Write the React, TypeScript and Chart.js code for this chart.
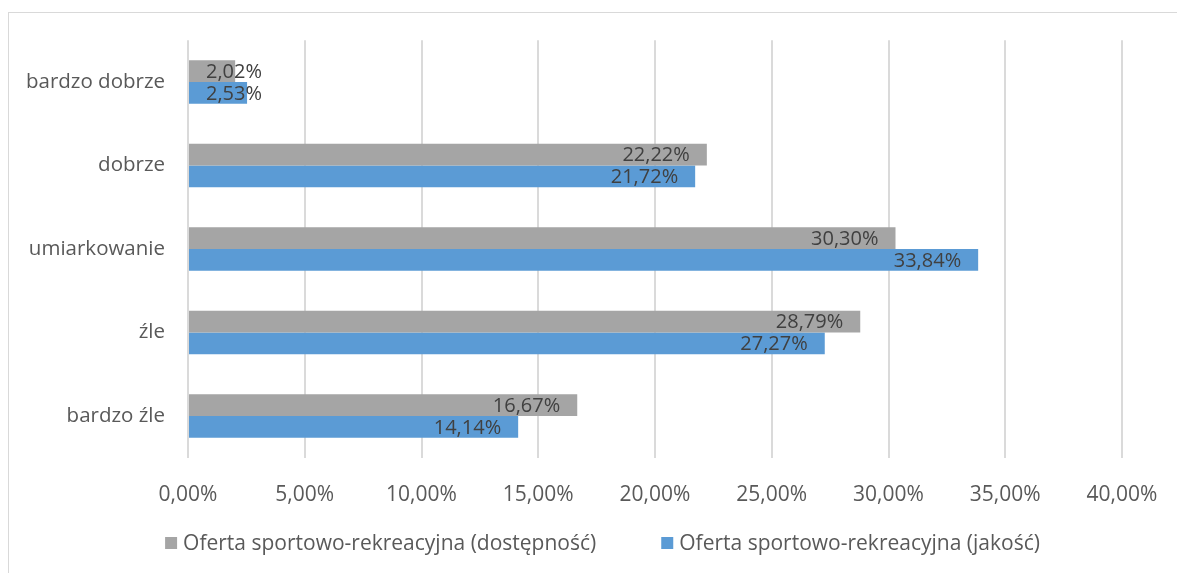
import React, { useEffect, useRef } from "react";
import { Chart, registerables } from "chart.js";

Chart.register(...registerables);

const categories = ["bardzo dobrze", "dobrze", "umiarkowanie", "źle", "bardzo źle"];
const seriesNames = [
  "Oferta sportowo-rekreacyjna (dostępność)",
  "Oferta sportowo-rekreacyjna (jakość)",
];
const dostepnosc = [2.02, 22.22, 30.3, 28.79, 16.67];
const jakosc = [2.53, 21.72, 33.84, 27.27, 14.14];
const seriesColors = ["#A5A5A5", "#5B9BD5"];
const axisMin = 0;
const axisMax = 40;
const axisStep = 5;

const FONT = "'Open Sans', 'Noto Sans', sans-serif";

const fmt = (v: number) => v.toFixed(2).replace(".", ",") + "%";

const labelPlugin = {
  id: "barLabels",
  afterDatasetsDraw(chart: any) {
    const ctx = chart.ctx;
    ctx.save();
    ctx.font = `20px ${FONT}`;
    ctx.fillStyle = "#404040";
    ctx.textBaseline = "middle";
    ctx.textAlign = "left";
    chart.data.datasets.forEach((ds: any, di: number) => {
      const meta = chart.getDatasetMeta(di);
      meta.data.forEach((el: any, i: number) => {
        const text = fmt(ds.data[i]);
        const w = ctx.measureText(text).width;
        const right = Math.max(el.x - 17, el.base + 17 + w);
        ctx.fillText(text, right - w, el.y + 1);
      });
    });
    ctx.restore();
  },
};

const legendPlugin = {
  id: "bottomLegend",
  afterDraw(chart: any) {
    const ctx = chart.ctx;
    ctx.save();
    ctx.font = `21px ${FONT}`;
    ctx.textBaseline = "middle";
    ctx.textAlign = "left";
    const box = 12;
    const gapText = 6;
    const gapItem = 65;
    const items = chart.data.datasets.map((ds: any) => ({
      text: ds.label,
      color: ds.backgroundColor,
      w: ctx.measureText(ds.label).width,
    }));
    const total =
      items.reduce((s: number, it: any) => s + box + gapText + it.w, 0) +
      gapItem * (items.length - 1);
    let x = 593.5 - total / 2;
    const y = 530;
    items.forEach((it: any) => {
      ctx.fillStyle = it.color;
      ctx.fillRect(x, y - box / 2, box, box);
      ctx.fillStyle = "#595959";
      ctx.fillText(it.text, x + box + gapText, y + 1);
      x += box + gapText + it.w + gapItem;
    });
    ctx.restore();
  },
};

export default function App() {
  const ref = useRef<HTMLCanvasElement>(null);
  useEffect(() => {
    const chart = new Chart(ref.current!, {
      type: "bar",
      data: {
        labels: categories,
        datasets: [
          { label: seriesNames[0], data: dostepnosc, backgroundColor: seriesColors[0] },
          { label: seriesNames[1], data: jakosc, backgroundColor: seriesColors[1] },
        ],
      },
      options: {
        indexAxis: "y",
        animation: false,
        responsive: false,
        maintainAspectRatio: false,
        layout: { padding: { top: 27, right: 55, left: 0, bottom: 40 } },
        datasets: { bar: { categoryPercentage: 0.52, barPercentage: 1 } },
        scales: {
          x: {
            min: axisMin,
            max: axisMax,
            afterFit: (s: any) => {
              s.paddingRight = 0;
              s.paddingLeft = 0;
            },
            ticks: {
              stepSize: axisStep,
              callback: (v: any) => fmt(Number(v)),
              color: "#595959",
              font: { family: FONT, size: 21 },
              padding: 25,
            },
            grid: { color: "#DADADA", lineWidth: 2, drawTicks: false },
            border: { display: false },
          },
          y: {
            afterFit: (s: any) => {
              s.width = 179;
            },
            ticks: {
              color: "#595959",
              font: { family: FONT, size: 20.5 },
              padding: 15,
            },
            grid: { display: false },
            border: { display: false },
          },
        },
        plugins: {
          tooltip: { enabled: false },
          legend: { display: false },
        },
      },
      plugins: [labelPlugin, legendPlugin],
    });
    return () => chart.destroy();
  }, []);
  return (
    <div
      style={{
        position: "fixed",
        left: 8,
        top: 12,
        width: 1169,
        height: 561,
        borderTop: "1px solid #D9D9D9",
        borderLeft: "1px solid #D9D9D9",
        background: "#fff",
      }}
    >
      <canvas ref={ref} width={1168} height={560} style={{ display: "block" }} />
    </div>
  );
}
